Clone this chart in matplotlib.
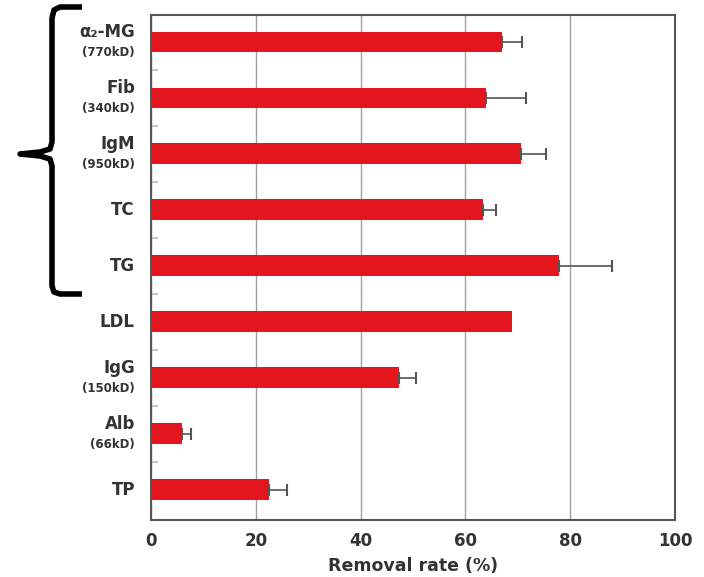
import matplotlib.pyplot as plt
from matplotlib.lines import Line2D
import numpy as np

# data, listed bottom to top
names = ["TP", "Alb", "IgG", "LDL", "TG", "TC", "IgM", "Fib", "α₂-MG"]
weights = ["", "(66kD)", "(150kD)", "", "", "", "(950kD)", "(340kD)", "(770kD)"]
removal = [22.5, 5.9, 47.3, 68.9, 77.9, 63.3, 70.6, 63.9, 67.0]
err_plus = [3.4, 1.7, 3.3, 0.0, 10.1, 2.5, 4.8, 7.7, 3.8]

red = '#e2161c'
dark = '#333333'

fig = plt.figure(figsize=(7.04, 5.77), dpi=100)
ax = fig.add_axes([151/704, 1 - 520/577, 524/704, 505/577])

y = np.arange(len(names))
ax.barh(y, removal, height=0.37, color=red, zorder=3)
has_err = np.array(err_plus) > 0
ax.errorbar(np.array(removal)[has_err], y[has_err],
            xerr=[np.zeros(has_err.sum()), np.array(err_plus)[has_err]],
            fmt='none', ecolor='#555555', elinewidth=1.2, capsize=4, capthick=1.5, zorder=4)

ax.set_xlim(0, 100)
ax.set_ylim(-0.54, 8.48)
ax.set_xticks([0, 20, 40, 60, 80, 100])
ax.set_xticklabels(['0', '20', '40', '60', '80', '100'], fontsize=12, fontweight='bold', color=dark)
ax.tick_params(axis='x', length=0, pad=9)
ax.set_yticks([])
ax.set_yticks(np.arange(len(names) - 1) + 0.5, minor=True)
ax.tick_params(axis='y', which='minor', direction='in', length=5, color='#bbbbbb', width=1.2)
ax.set_yticklabels([], minor=True)
ax.grid(axis='x', color='#a0a0a0', linewidth=1, zorder=0)
for s in ax.spines.values():
    s.set_color('#555555')
    s.set_linewidth(1.5)

ax.set_xlabel('Removal rate (%)', fontsize=12.5, fontweight='bold', color=dark, labelpad=5)

# category labels, two lines where a weight is given
trans = ax.get_yaxis_transform()
for yi, nm, wt in zip(y, names, weights):
    if wt:
        ax.annotate(nm, (-0.02, yi), xycoords=trans, xytext=(-4, 7), textcoords='offset points',
                    ha='right', va='center', fontsize=12, fontweight='bold', color=dark)
        ax.annotate(wt, (-0.02, yi), xycoords=trans, xytext=(-4, -8), textcoords='offset points',
                    ha='right', va='center', fontsize=8.5, fontweight='bold', color=dark)
    else:
        ax.annotate(nm, (-0.02, yi), xycoords=trans, xytext=(-4, 0), textcoords='offset points',
                    ha='right', va='center', fontsize=12, fontweight='bold', color=dark)

# curly bracket on the left (figure pixels)
W, H = 704, 577
def fx(px): return px / W
def fy(py): return 1 - py / H
xs = [82, 60, 54, 52]
ys = [7, 7, 10, 18]
xs += [52, 50, 40, 20]
ys += [142, 149, 152, 154]
xs += [40, 50, 52]
ys += [156, 159, 166]
xs += [52, 54, 60, 82]
ys += [286, 292, 294, 294]
fig.add_artist(Line2D([fx(v) for v in xs], [fy(v) for v in ys], color='black',
                      linewidth=4, solid_joinstyle='round', solid_capstyle='butt'))

plt.savefig('out.png', dpi=100)
